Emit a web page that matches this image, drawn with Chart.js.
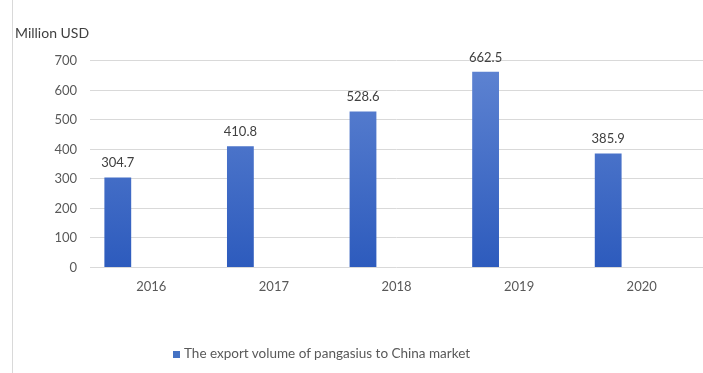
<!DOCTYPE html>
<html>
<head>
<meta charset="utf-8">
<script src="https://cdn.jsdelivr.net/npm/chart.js@4"></script>
<style>
  html, body { margin: 0; padding: 0; background: #fff; }
  #wrap { position: relative; width: 703px; height: 373px; }
  #edge { position: absolute; left: 12px; top: 0; width: 1px; height: 373px; background: #d9d9d9; }
  #legend {
    position: absolute; left: 173px; top: 345px;
    font: 13.5px Lato, sans-serif; color: #595959; white-space: nowrap;
  }
  #legend span.box {
    display: inline-block; width: 7px; height: 7px; margin-right: 4px;
    background: #4472c4; vertical-align: 0px;
  }
</style>
</head>
<body>
<div id="wrap">
  <canvas id="chart" width="703" height="373"></canvas>
  <div id="edge"></div>
  <div id="legend"></div>
</div>
<script>
const years = ['2016', '2017', '2018', '2019', '2020'];
const exportVolume = [304.7, 410.8, 528.6, 662.5, 385.9];
const emptySeries = [null, null, null, null, null];
const yTicks = [0, 100, 200, 300, 400, 500, 600, 700];
const seriesLabel = 'The export volume of pangasius to China market';

const FONT = 'Lato, sans-serif';

function barGradient(context) {
  const { chart } = context;
  const area = chart.chartArea;
  if (!area) return '#4472c4';
  const g = chart.ctx.createLinearGradient(0, area.top, 0, area.bottom);
  g.addColorStop(0, '#5f84d2');
  g.addColorStop(1, '#2d5bbd');
  return g;
}

// writes each bar's value just above its top
const valueLabels = {
  id: 'valueLabels',
  afterDatasetsDraw(chart) {
    const ctx = chart.ctx;
    const meta = chart.getDatasetMeta(0);
    ctx.save();
    ctx.font = '13px ' + FONT;
    ctx.fillStyle = '#404040';
    ctx.textAlign = 'center';
    ctx.textBaseline = 'bottom';
    meta.data.forEach((bar, i) => {
      const v = chart.data.datasets[0].data[i];
      ctx.fillText(v.toFixed(1), bar.x, bar.y - 8);
    });
    ctx.restore();
  }
};

new Chart(document.getElementById('chart'), {
  type: 'bar',
  data: {
    labels: years,
    datasets: [
      { label: seriesLabel, data: exportVolume, backgroundColor: barGradient },
      { label: '', data: emptySeries },
      { label: '', data: emptySeries }
    ]
  },
  options: {
    responsive: false,
    animation: false,
    datasets: { bar: { categoryPercentage: 0.82, barPercentage: 0.8 } },
    layout: { padding: { left: 15, right: 0, top: 22, bottom: 74 } },
    plugins: {
      legend: { display: false },
      tooltip: { enabled: false },
      title: {
        display: true,
        text: 'Million USD',
        align: 'start',
        color: '#404040',
        font: { family: FONT, size: 14, weight: 'normal' },
        padding: { top: 3, bottom: 19 }
      }
    },
    scales: {
      x: {
        grid: { display: false },
        border: { display: false },
        ticks: { color: '#595959', font: { family: FONT, size: 13 }, padding: 4 }
      },
      y: {
        min: 0,
        max: 700,
        afterBuildTicks(scale) {
          scale.ticks = yTicks.map((v) => ({ value: v }));
        },
        afterFit(scale) { scale.width = 75; },
        grid: { color: '#d9d9d9', drawTicks: false },
        border: { display: false },
        ticks: { color: '#595959', font: { family: FONT, size: 13 }, padding: 13 }
      }
    }
  },
  plugins: [valueLabels]
});

document.getElementById('legend').innerHTML =
  '<span class="box"></span>' + seriesLabel;
</script>
</body>
</html>
